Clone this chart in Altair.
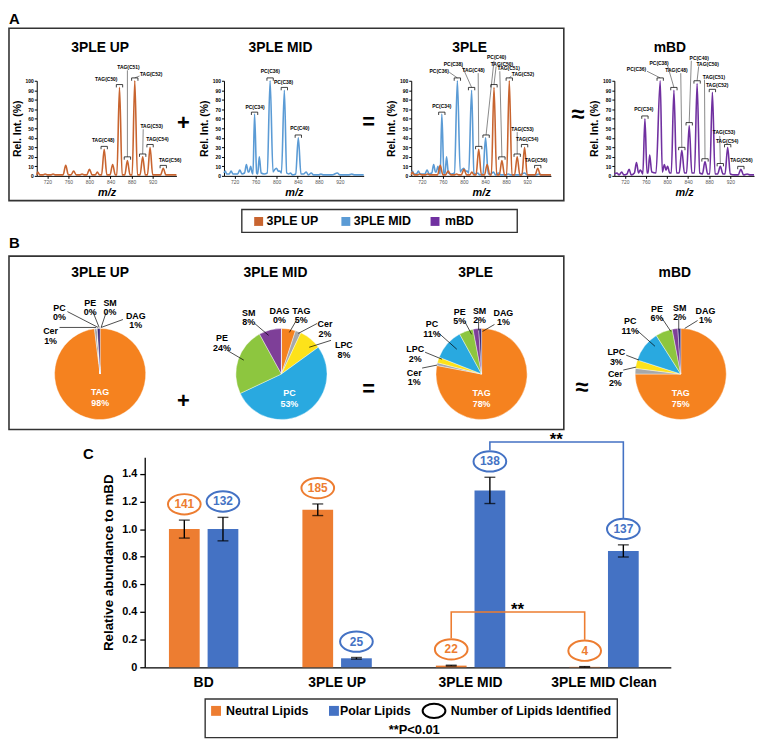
import altair as alt
import pandas as pd

FONT = "Liberation Sans"

# ---------------- A: mass spectra (m/z vs relative intensity %) ----------------
UP_MZ = [700, 702, 706, 712, 716, 720, 727, 731, 735, 750, 755, 760, 765, 770, 775, 782, 786, 790,
         795, 800, 805, 811, 815, 819, 823, 828, 833, 839, 844, 849, 852, 857, 862, 867, 872, 877,
         881, 886, 891, 896, 901, 906, 910, 915, 920, 927, 935, 940, 945, 952, 965]
UP_INT = [1, 4, 1, 1, 2, 1, 1, 2, 1, 1, 11, 1, 1, 5, 1, 1, 2, 1,
          1, 7, 1, 1, 4, 1, 1, 28, 1, 1, 12, 1, 1, 93, 1, 1, 16, 1,
          1, 100, 1, 1, 20, 1, 1, 30, 1, 1, 1, 8, 1, 1, 1]
MID_MZ = [700, 702.5, 705, 710, 713.5, 717, 726, 730, 734, 739, 742.5, 746, 747.5, 750.5, 753.5, 755,
          758, 762, 764, 767, 770.5, 776, 782, 787.5, 793, 795.5, 799.5, 803, 806, 809, 814.5, 819,
          823, 826, 830, 836, 841, 846, 851, 856, 860, 865.5, 870, 879, 884, 889, 905, 915, 920, 936,
          942.5, 948, 965]
MID_INT = [3, 5, 2, 2, 5, 2, 2, 6, 2, 3, 12, 4, 4, 10, 3, 2,
           65, 3, 2, 20, 3, 2, 3, 100, 4, 6, 8, 5, 5, 3, 90, 3,
           2, 3, 1, 2, 40, 2, 2, 4, 1, 3, 1, 1, 2, 1, 1, 3, 1, 1,
           2, 1, 1]
MBD_MZ = [700, 705, 709, 714, 718, 724, 728, 732, 738, 742, 746, 749, 751, 754, 758, 762, 764, 767,
          771, 779, 787, 791, 795, 798, 801, 805, 808, 813, 818, 823, 828, 833, 837, 842, 847, 852,
          857, 862, 867, 872, 877, 881, 886, 891, 896, 901, 906, 910, 915, 920, 928, 935, 940, 945,
          952, 958, 965]
MBD_INT = [2, 3, 1, 4, 1, 2, 7, 1, 3, 14, 3, 6, 5, 2, 60, 3, 3, 22,
           4, 3, 100, 4, 12, 6, 10, 3, 3, 90, 3, 3, 27, 3, 3, 53, 3, 3,
           97, 3, 2, 15, 2, 2, 88, 2, 2, 10, 2, 2, 30, 2, 1, 1, 7, 1,
           2, 1, 1]
MZ_TICKS = [720, 760, 800, 840, 880, 920]

# peak annotations: label, text (mz, y), bracket (mz, y), leader start (mz, y)
ANN_COLS = ["label", "tx", "ty", "bx", "by", "lx", "ly"]
ANN_UP = [
    ("TAG(C48)", 826, 38, 828, 31, None, None),
    ("TAG(C50)", 832, 102, 857, 96, None, None),
    ("TAG(C51)", 874, 114, 872, 20, 872, 111),
    ("TAG(C52)", 917, 107, 886, 103, 895, 105),
    ("TAG(C53)", 918, 52, 901, 23, 902, 49),
    ("TAG(C54)", 929, 39, 915, 33, None, None),
    ("TAG(C56)", 953, 17, 940, 11, None, None),
]
ANN_MID = [
    ("PC(C34)", 759, 72, 758, 67, None, None),
    ("PC(C36)", 788, 110, 787.5, 103, None, None),
    ("PC(C38)", 813, 99, 814.5, 93, None, None),
    ("PC(C40)", 844, 50, 841, 43, None, None),
]
ANN_PLE = [
    ("PC(C34)", 758, 73, 758, 67, None, None),
    ("PC(C36)", 753, 110, 787.5, 103, 772, 109),
    ("PC(C38)", 780, 118, 814.5, 93, 796, 116),
    ("TAG(C48)", 818, 111, 828, 31, 827, 108),
    ("PC(C40)", 862, 125, 842, 43, 857, 121),
    ("TAG(C50)", 872, 118, 857, 96, 861, 115),
    ("TAG(C51)", 885, 113, 872, 20, 868, 110),
    ("TAG(C52)", 912, 107, 886, 103, 890, 105),
    ("TAG(C53)", 911, 49, 901, 23, 901, 46),
    ("TAG(C54)", 920, 39, 915, 33, None, None),
    ("TAG(C56)", 937, 17, 940, 11, None, None),
]
ANN_MBD = [
    ("PC(C34)", 756, 70, 758, 63, None, None),
    ("PC(C36)", 742, 112, 787, 103, 762, 110),
    ("PC(C38)", 785, 119, 813, 93, 801, 116),
    ("TAG(C48)", 818, 111, 828, 30, 826, 108),
    ("PC(C40)", 861, 124, 842, 56, 846, 121),
    ("TAG(C50)", 877, 118, 857, 100, 860, 115),
    ("TAG(C51)", 889, 104, 872, 18, 871, 101),
    ("TAG(C52)", 895, 96, 886, 91, None, None),
    ("TAG(C53)", 908, 46, 901, 13, 900, 42),
    ("TAG(C54)", 914, 37, 915, 33, None, None),
    ("TAG(C56)", 941, 17, 940, 10, None, None),
]

# ---------------- B: lipid class composition (%) ----------------
PIE_CLASSES = ["TAG", "Cer", "LPC", "PC", "PE", "SM", "DAG"]
PIE_COLORS = ["#F5821F", "#A6A8AB", "#FDE21A", "#29A9E0", "#8DC63F", "#7E3F98", "#3B2A78"]
PIE_UP = [98, 1, 0, 0, 0, 0, 1]
PIE_MID = [5, 2, 8, 53, 24, 8, 0]
PIE_PLE = [78, 1, 2, 11, 5, 2, 1]
PIE_MBD = [75, 2, 3, 11, 6, 2, 1]
# label layout (class, label x, label y, leader x1, y1, x2, y2) in px from pie centre
LAB_UP = [("PC", -41, -67, -33, -63, -2, -47), ("PE", -10, -72, -7, -62, -1, -47),
          ("SM", 10, -72, 6, -62, 1, -47), ("DAG", 36, -59, 23, -55, 1, -47),
          ("Cer", -50, -43, -41, -47, -4, -47)]
LAB_MID = [("SM", -33, -62, -27, -51, -13, -39), ("DAG", -2, -64, None, None, None, None),
           ("TAG", 20, -64, 15, -54, 8, -42), ("Cer", 44, -50, 36, -51, 17, -41),
           ("LPC", 63, -29, 50, -34, 28, -27), ("PE", -60, -36, -55, -24, -38, -14)]
LAB_PLE = [("PC", -50, -50, -44, -42, -25, -25), ("PE", -22, -63, -17, -53, -10, -40),
           ("SM", -2, -64, -3, -55, -3, -44), ("DAG", 22, -62, 13, -50, 1, -43),
           ("LPC", -67, -25, -57, -22, -40, -15), ("Cer", -68, -1, -60, -6, -45, -9)]
LAB_MBD = [("PC", -51, -53, -44, -44, -26, -28), ("PE", -24, -66, -20, -58, -10, -43),
           ("SM", -1, -67, -2, -58, -2, -45), ("DAG", 25, -64, 17, -54, 4, -46),
           ("LPC", -65, -22, -55, -19, -42, -14), ("Cer", -66, 0, -58, -4, -45, -7)]

# ---------------- C: relative abundance to mBD ----------------
GROUPS = ["BD", "3PLE UP", "3PLE MID", "3PLE MID Clean"]
SERIES = ["Neutral Lipids", "Polar Lipids"]
SERIES_COLORS = ["#ED7D31", "#4472C4"]
NEUTRAL = [1.0, 1.14, 0.012, 0.003]
NEUTRAL_ERR = [0.065, 0.042, 0.003, 0.002]
POLAR = [1.0, 0.065, 1.28, 0.842]
POLAR_ERR = [0.085, 0.006, 0.095, 0.044]
N_NEUTRAL = [141, 185, 22, 4]
N_POLAR = [132, 25, 138, 137]
BR_GROUPS = ["3PLE MID", "3PLE MID", "3PLE MID Clean", "3PLE MID Clean"]
BR_POLAR_Y = [1.57, 1.63, 1.63, 1.08]
BR_NEUTRAL_Y = [0.21, 0.40, 0.40, 0.20]

ONE = alt.Data(values=[{"k": 1}])


def txt(s, x, y, size, color="black", align="center", baseline="middle", style="normal"):
    return alt.Chart(ONE).mark_text(text=s, fontSize=size, fontWeight="bold", fontStyle=style,
                                    align=align, baseline=baseline, color=color, font=FONT).encode(
        x=alt.value(x), y=alt.value(y))


def frame(x1, y1, x2, y2, sw=1.6):
    return alt.Chart(ONE).mark_rect(fillOpacity=0, stroke="#333333", strokeWidth=sw).encode(
        x=alt.value(x1), x2=alt.value(x2), y=alt.value(y1), y2=alt.value(y2))


def sq(x, y, side, color):
    return alt.Chart(ONE).mark_square(size=side * side, color=color, opacity=1, filled=True).encode(
        x=alt.value(x), y=alt.value(y))


def anchor(x, y1, y2):
    # invisible rule fixing the layout bounds of a row
    return alt.Chart(ONE).mark_rule(opacity=0).encode(x=alt.value(x), y=alt.value(y1), y2=alt.value(y2))


def spacer(w):
    return alt.Chart(ONE).mark_point(opacity=0, size=1).encode(
        x=alt.value(0), y=alt.value(0)).properties(width=w, height=10)


# ---------- spectra ----------
XS = alt.Scale(domain=[700, 965], nice=False, zero=False)
YS = alt.Scale(domain=[0, 100], nice=False)
XAX = alt.Axis(title="m/z", values=MZ_TICKS, labelFontSize=5, labelColor="#555555", labelPadding=1,
               tickSize=2.5, tickColor="black", domainColor="black", grid=False, titleFontSize=11,
               titleFontStyle="italic", titleFontWeight="bold", titlePadding=2)
YAX = alt.Axis(title="Rel. Int. (%)", values=list(range(0, 101, 10)), labelFontSize=5,
               labelFontWeight="bold", labelPadding=1, tickSize=2.5, tickColor="black",
               domainColor="black", grid=False, titleFontSize=10.5, titleFontWeight="bold",
               titlePadding=3)


def SX(f):
    return alt.X(f + ":Q", scale=XS, axis=XAX)


def SY(f):
    return alt.Y(f + ":Q", scale=YS, axis=YAX)


def spectrum(series, ann, title, tdx, extras=()):
    layers = []
    for mz, ri, col in series:
        df = pd.DataFrame({"mz": mz, "ri": ri})
        layers.append(alt.Chart(df).mark_line(color=col, strokeWidth=1.6, interpolate="monotone")
                      .encode(x=SX("mz"), y=SY("ri")))
    adf = pd.DataFrame(ann, columns=ANN_COLS)
    base = alt.Chart(adf)
    layers.append(base.transform_filter("isValid(datum.lx)")
                  .mark_rule(color="#555555", strokeWidth=0.7)
                  .encode(x=SX("lx"), y=SY("ly"), x2="bx:Q", y2="by:Q"))
    layers.append(base.transform_calculate(xa="datum.bx-6", xb="datum.bx+6")
                  .mark_rule(color="#111111", strokeWidth=0.8)
                  .encode(x=SX("xa"), x2="xb:Q", y=SY("by")))
    layers.append(base.transform_calculate(xa="datum.bx-6", yb="datum.by-3")
                  .mark_rule(color="#111111", strokeWidth=0.8)
                  .encode(x=SX("xa"), y=SY("by"), y2="yb:Q"))
    layers.append(base.transform_calculate(xb="datum.bx+6", yb="datum.by-3")
                  .mark_rule(color="#111111", strokeWidth=0.8)
                  .encode(x=SX("xb"), y=SY("by"), y2="yb:Q"))
    layers.append(base.mark_text(fontSize=5, fontWeight="bold", font=FONT)
                  .encode(x=SX("tx"), y=SY("ty"), text="label:N"))
    layers.append(txt(title, tdx, -33, 14))
    layers += list(extras)
    return alt.layer(*layers).properties(width=141, height=96)


C_UP, C_MID, C_MBD = "#C8642F", "#5B9BD5", "#7030A0"

sUP = spectrum([(UP_MZ, UP_INT, C_UP)], ANN_UP, "3PLE UP", 64, extras=[
    anchor(-29, -70, 156),
    txt("A", -28, -62, 15, align="left"),
    frame(-28, -53, 532, 121),
    txt("+", 148, 43, 22),
    frame(207, 130, 485, 153, 1.4),
    sq(224, 142, 9, C_UP), txt("3PLE UP", 232, 142, 12.5, align="left"),
    sq(312, 142, 9, C_MID), txt("3PLE MID", 320, 142, 12.5, align="left"),
    sq(402, 142, 9, C_MBD), txt("mBD", 412, 142, 12.5, align="left"),
])
sMID = spectrum([(MID_MZ, MID_INT, C_MID)], ANN_MID, "3PLE MID", 57, extras=[txt("=", 146, 42, 22)])
sPLE = spectrum([(MID_MZ, MID_INT, C_MID), (UP_MZ, UP_INT, C_UP)], ANN_PLE, "3PLE", 59,
                extras=[txt("≈", 168, 35, 24)])
sMBD = spectrum([(MBD_MZ, MBD_INT, C_MBD)], ANN_MBD, "mBD", 56)

# ---------- pies ----------
PIE_R = 46
PIE_W, PIE_H = 128, 112
PX = alt.Scale(domain=[-PIE_W / 2, PIE_W / 2], nice=False, zero=False)
PY = alt.Scale(domain=[PIE_H / 2, -PIE_H / 2], nice=False, zero=False)


def pie(pcts, lab, inside, title, tdx, extras=()):
    df = pd.DataFrame({"cls": PIE_CLASSES, "pct": pcts, "ord": list(range(len(PIE_CLASSES)))})
    arc = alt.Chart(df).mark_arc(outerRadius=PIE_R, stroke="white", strokeWidth=0.4).encode(
        theta=alt.Theta("pct:Q", stack=True),
        color=alt.Color("cls:N", scale=alt.Scale(domain=PIE_CLASSES, range=PIE_COLORS), legend=None),
        order=alt.Order("ord:Q"),
    )
    rows = []
    for cls, lx, ly, x1, y1, x2, y2 in lab:
        rows.append({"txt": f"{cls}\n{pcts[PIE_CLASSES.index(cls)]}%", "lx": lx, "ly": ly,
                     "x1": x1, "y1": y1, "x2": x2, "y2": y2})
    ldf = pd.DataFrame(rows)
    labels = alt.Chart(ldf).mark_text(fontSize=9, fontWeight="bold", lineBreak="\n", lineHeight=9.5,
                                      font=FONT, color="black").encode(
        x=alt.X("lx:Q", scale=PX, axis=None), y=alt.Y("ly:Q", scale=PY, axis=None), text="txt:N")
    leads = alt.Chart(ldf).transform_filter("isValid(datum.x1)").mark_rule(
        color="black", strokeWidth=0.7).encode(
        x=alt.X("x1:Q", scale=PX, axis=None), y=alt.Y("y1:Q", scale=PY, axis=None),
        x2="x2:Q", y2="y2:Q")
    icls, ix, iy = inside
    idf = pd.DataFrame([{"txt": f"{icls}\n{pcts[PIE_CLASSES.index(icls)]}%", "lx": ix, "ly": iy}])
    inner = alt.Chart(idf).mark_text(fontSize=9, fontWeight="bold", lineBreak="\n", lineHeight=11,
                                     font=FONT, color="white").encode(
        x=alt.X("lx:Q", scale=PX, axis=None), y=alt.Y("ly:Q", scale=PY, axis=None), text="txt:N")
    layers = [arc, leads, labels, inner, txt(title, PIE_W / 2 + tdx, -46, 14)] + list(extras)
    return alt.layer(*layers).properties(width=PIE_W, height=PIE_H)


pUP = pie(PIE_UP, LAB_UP, ("TAG", 0, 18), "3PLE UP", 0, extras=[
    anchor(-29, -84, 110),
    txt("B", -28, -76, 15, align="left"),
    frame(-28, -63, 532, 112),
    txt("+", 148, 83, 22),
])
pMID = pie(PIE_MID, LAB_MID, ("PC", 8, 19), "3PLE MID", -6, extras=[txt("=", 152, 71, 22)])
pPLE = pie(PIE_PLE, LAB_PLE, ("TAG", 0, 19), "3PLE", -6, extras=[txt("≈", 165, 70, 24)])
pMBD = pie(PIE_MBD, LAB_MBD, ("TAG", 0, 19), "mBD", -6)

# ---------- bar chart ----------
bdf = pd.DataFrame({
    "group": GROUPS * 2,
    "series": [SERIES[0]] * 4 + [SERIES[1]] * 4,
    "value": NEUTRAL + POLAR,
    "err": NEUTRAL_ERR + POLAR_ERR,
    "n": N_NEUTRAL + N_POLAR,
})
YB = alt.Scale(domain=[0, 1.52], nice=False)
YBAX = alt.Axis(title="Relative abundance to mBD", values=[0, 0.2, 0.4, 0.6, 0.8, 1.0, 1.2, 1.4],
                labelExpr="datum.value == 0 ? '0' : format(datum.value, '.1f')", labelFontSize=11,
                labelFontWeight="bold", labelColor="black", labelPadding=3, tickSize=5, tickWidth=1.3,
                tickColor="black", domainColor="black", domainWidth=1.3, grid=False,
                titleFontSize=13.5, titleFontWeight="bold", titlePadding=6, titleColor="black")
XBAX = alt.Axis(title=None, labelAngle=0, labelFontSize=14, labelFontWeight="bold", labelColor="black",
                labelPadding=8, ticks=False, domainColor="black", domainWidth=1.3)
XB = alt.X("group:N", sort=GROUPS,
           scale=alt.Scale(domain=GROUPS, paddingInner=0.48, paddingOuter=0.211, align=0.43), axis=XBAX)
XO = alt.XOffset("series:N", scale=alt.Scale(domain=SERIES, paddingInner=0.205, paddingOuter=0))
COL = alt.Color("series:N", scale=alt.Scale(domain=SERIES, range=SERIES_COLORS), legend=None)


def BY(f):
    return alt.Y(f + ":Q", scale=YB, axis=YBAX)


ELL = "M-1,0A1,0.62,0,1,1,1,0A1,0.62,0,1,1,-1,0Z"
bbase = alt.Chart(bdf).transform_calculate(lo="datum.value-datum.err", hi="datum.value+datum.err")
bars = bbase.mark_bar().encode(x=XB, xOffset=XO, y=BY("value"), color=COL)
errs = bbase.mark_rule(color="black", strokeWidth=1.4).encode(x=XB, xOffset=XO, y=BY("lo"), y2="hi:Q")
cap_lo = bbase.mark_tick(color="black", thickness=1.4, size=11).encode(x=XB, xOffset=XO, y=BY("lo"))
cap_hi = bbase.mark_tick(color="black", thickness=1.4, size=11).encode(x=XB, xOffset=XO, y=BY("hi"))
ells = bbase.mark_point(shape=ELL, size=1089, filled=False, strokeWidth=2, yOffset=-16, opacity=1).encode(
    x=XB, xOffset=XO, y=BY("hi"), color=COL)
nums = bbase.mark_text(fontSize=12, fontWeight="bold", dy=-16, font=FONT).encode(
    x=XB, xOffset=XO, y=BY("hi"), text="n:Q", color=COL)

brdf = pd.DataFrame({
    "group": BR_GROUPS * 2,
    "series": [SERIES[1]] * 4 + [SERIES[0]] * 4,
    "y": BR_POLAR_Y + BR_NEUTRAL_Y,
    "ord": [0, 1, 2, 3] * 2,
})
brk = alt.Chart(brdf).mark_line(strokeWidth=1.6).encode(
    x=XB, xOffset=XO, y=BY("y"), color=COL, detail="series:N", order=alt.Order("ord:Q"))
stdf = pd.DataFrame({"group": ["3PLE MID", "3PLE MID"], "series": SERIES,
                     "y": [BR_NEUTRAL_Y[1], BR_POLAR_Y[1]]})
stars = alt.Chart(stdf).mark_text(text="**", fontSize=17, fontWeight="bold", dx=67, dy=-2,
                                  font=FONT, color="black").encode(x=XB, xOffset=XO, y=BY("y"))

cdec = [
    anchor(-137.7, -26, 286),
    txt("C", -57, -3, 15),
    frame(61, 244, 477, 283, 1.4),
    sq(72, 256, 10, SERIES_COLORS[0]), txt("Neutral Lipids", 82, 256, 12.5, align="left"),
    sq(191, 256, 10, SERIES_COLORS[1]), txt("Polar Lipids", 197, 256, 12.5, align="left"),
    alt.Chart(ONE).mark_point(shape=ELL, size=529, filled=False, strokeWidth=2, color="black",
                              opacity=1).encode(x=alt.value(292), y=alt.value(256)),
    txt("Number of Lipids Identified", 309, 256, 12.5, align="left"),
    txt("**P<0.01", 272, 275, 13),
]
barC = alt.layer(bars, brk, errs, cap_lo, cap_hi, ells, nums, stars, *cdec).properties(width=531, height=212)

rowA = alt.hconcat(sUP, spacer(28), sMID, spacer(28), sPLE, spacer(44), sMBD,
                   spacing=10, bounds="flush")
rowB = alt.hconcat(pUP, spacer(35), pMID, spacer(54), pPLE, spacer(53), pMBD,
                   spacing=10, bounds="flush")
rowC = alt.hconcat(spacer(98.7), barC, spacing=10, bounds="flush")
chart = alt.vconcat(rowA, rowB, rowC, spacing=0).resolve_scale(color="independent")
chart = chart.properties(padding=0).configure(
    font=FONT, view=alt.ViewConfig(strokeWidth=0, stroke="transparent"))

chart.save("out.html", embed_options={"renderer": "svg", "actions": False})
